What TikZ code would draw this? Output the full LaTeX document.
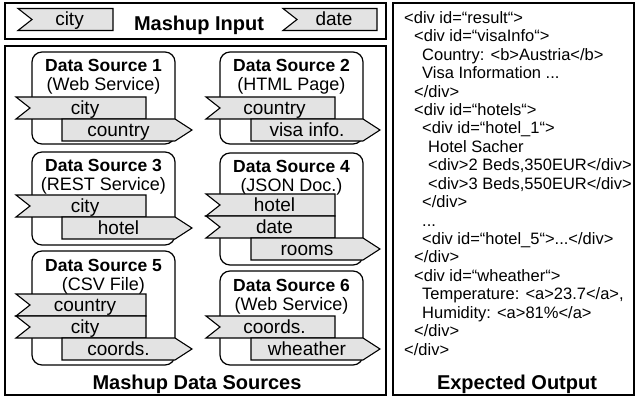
\documentclass[tikz,border=0pt]{standalone}
\usepackage{fontspec}
\setmainfont{Liberation Sans}
\definecolor{tagfill}{gray}{0.89}
% input tag (notch on the left)
\newcommand{\intag}[5]{%
	\draw[tag] (#2,#4) -- (#3,#4) -- (#3,#4+22) -- (#2,#4+22) -- (#2+14,#4+11) -- cycle;
	\node[taglabel] (#1) at ({(#2+#3)/2+4},#4+17.5) {#5};}
% output tag (arrow tip on the right)
\newcommand{\outtag}[5]{%
	\draw[tag] (#2,#4) -- (#3,#4) -- (#3+17,#4+11) -- (#3,#4+22) -- (#2,#4+22) -- cycle;
	\node[taglabel] (#1) at ({(#2+#3)/2},#4+17.5) {#5};}
% data source box with title and kind
\newcommand{\dsource}[6]{%
	\draw[dsbox] (#2,#3) rectangle (#2+143,#4);
	\node[dstitle] (#1) at (#2+71.5,#3+20) {#5};
	\node[dssub] (#1kind) at (#2+71.5,#3+39) {#6};}
\newcommand{\ind}[1]{\hspace*{#1pt}}
\begin{document}
\begin{tikzpicture}[x=1pt,y=-1pt,line join=miter,
	outer/.style={line width=1.4pt},
	dsbox/.style={line width=1.2pt,rounded corners=10pt},
	tag/.style={line width=1.1pt,fill=tagfill},
	taglabel/.style={anchor=base,inner sep=0pt,font=\fontsize{19}{22}\selectfont},
	dstitle/.style={anchor=base,inner sep=0pt,font=\fontsize{17.5}{20}\selectfont\bfseries},
	dssub/.style={anchor=base,inner sep=0pt,font=\fontsize{18}{21}\selectfont},
	boxtitle/.style={anchor=base,inner sep=0pt,font=\fontsize{20}{24}\selectfont\bfseries},
	code/.style={anchor=base west,inner sep=0pt,align=left,font=\fontsize{16.5}{18.42}\selectfont}]
	\useasboundingbox (0,0) rectangle (637,398);
	% Mashup input
	\draw[outer] (5,3) rectangle (386,39);
	\node[boxtitle] (input) at (199,31) {Mashup Input};
	\intag{incity}{18}{113}{8.5}{city}
	\intag{indate}{283}{377}{8.5}{date}
	% Mashup data sources
	\draw[outer] (5,46) rectangle (386,395);
	\node[boxtitle] (sources) at (197,389) {Mashup Data Sources};
	% Data source 1
	\dsource{ds1}{32}{52}{144}{Data Source 1}{(Web Service)}
	\intag{ds1city}{16}{146}{97}{city}
	\outtag{ds1country}{62}{175}{119}{country}
	% Data source 2
	\dsource{ds2}{220}{52}{144}{Data Source 2}{(HTML Page)}
	\intag{ds2country}{206}{335}{97}{country}
	\outtag{ds2visa}{251}{363}{119}{visa info.}
	% Data source 3
	\dsource{ds3}{32}{152}{245}{Data Source 3}{(REST Service)}
	\intag{ds3city}{16}{146}{195}{city}
	\outtag{ds3hotel}{62}{175}{217}{hotel}
	% Data source 4
	\dsource{ds4}{220}{153}{265}{Data Source 4}{(JSON Doc.)}
	\intag{ds4hotel}{206}{335}{194}{hotel}
	\intag{ds4date}{206}{335}{216}{date}
	\outtag{ds4rooms}{251}{363}{238}{rooms}
	% Data source 5
	\dsource{ds5}{32}{251}{365}{Data Source 5}{(CSV File)}
	\intag{ds5country}{16}{146}{294}{country}
	\intag{ds5city}{16}{146}{316}{city}
	\outtag{ds5coords}{62}{175}{338}{coords.}
	% Data source 6
	\dsource{ds6}{220}{271}{365}{Data Source 6}{(Web Service)}
	\intag{ds6coords}{206}{335}{316}{coords.}
	\outtag{ds6weather}{251}{363}{338}{wheather}
	% Expected output
	\draw[outer] (393,3) rectangle (634,395);
	\node[boxtitle] (output) at (517,389) {Expected Output};
	\begin{scope}
		\clip (393,3) rectangle (633,395);
		% base of the node = baseline of the last line
		\node[code] (html) at (404,355) {<div id=“result“>\\
			\ind{10}<div id=“visaInfo“>\\
			\ind{18}Country: <b>Austria</b>\\
			\ind{18}Visa Information ...\\
			\ind{10}</div>\\
			\ind{10}<div id=“hotels“>\\
			\ind{18}<div id=“hotel\_1“>\\
			\ind{24}Hotel Sacher\\
			\ind{24}<div>2 Beds,350EUR</div>\\
			\ind{24}<div>3 Beds,550EUR</div>\\
			\ind{18}</div>\\
			\ind{18}...\\
			\ind{18}<div id=“hotel\_5“>...</div>\\
			\ind{10}</div>\\
			\ind{10}<div id=“wheather“>\\
			\ind{18}Temperature: <a>23.7</a>,\\
			\ind{18}Humidity: <a>81\%</a>\\
			\ind{10}</div>\\
			</div>};
	\end{scope}
\end{tikzpicture}
\end{document}
